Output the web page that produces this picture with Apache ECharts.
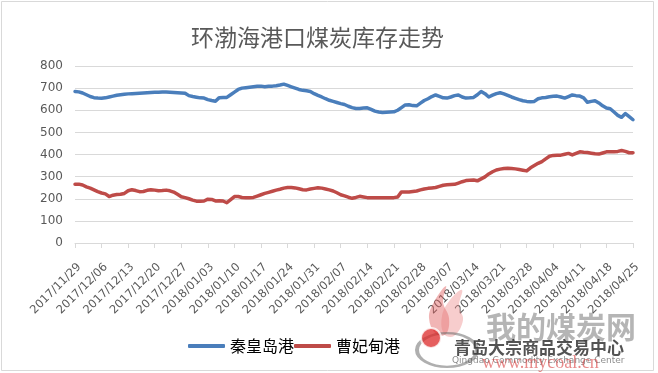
<!DOCTYPE html>
<html>
<head>
<meta charset="utf-8">
<script src="https://cdn.jsdelivr.net/npm/echarts@6/dist/echarts.min.js"></script>
<style>
html,body{margin:0;padding:0;background:#fff;}
#chart{width:658px;height:373px;}
</style>
</head>
<body>
<div id="chart"></div>
<script>
var categories = [
'2017/11/29','2017/11/30',
'2017/12/01','2017/12/02','2017/12/03','2017/12/04','2017/12/05','2017/12/06','2017/12/07','2017/12/08','2017/12/09','2017/12/10',
'2017/12/11','2017/12/12','2017/12/13','2017/12/14','2017/12/15','2017/12/16','2017/12/17','2017/12/18','2017/12/19','2017/12/20',
'2017/12/21','2017/12/22','2017/12/23','2017/12/24','2017/12/25','2017/12/26','2017/12/27','2017/12/28','2017/12/29','2017/12/30','2017/12/31',
'2018/01/01','2018/01/02','2018/01/03','2018/01/04','2018/01/05','2018/01/06','2018/01/07','2018/01/08','2018/01/09','2018/01/10',
'2018/01/11','2018/01/12','2018/01/13','2018/01/14','2018/01/15','2018/01/16','2018/01/17','2018/01/18','2018/01/19','2018/01/20',
'2018/01/21','2018/01/22','2018/01/23','2018/01/24','2018/01/25','2018/01/26','2018/01/27','2018/01/28','2018/01/29','2018/01/30','2018/01/31',
'2018/02/01','2018/02/02','2018/02/03','2018/02/04','2018/02/05','2018/02/06','2018/02/07','2018/02/08','2018/02/09','2018/02/10',
'2018/02/11','2018/02/12','2018/02/13','2018/02/14','2018/02/15','2018/02/16','2018/02/17','2018/02/18','2018/02/19','2018/02/20',
'2018/02/21','2018/02/22','2018/02/23','2018/02/24','2018/02/25','2018/02/26','2018/02/27','2018/02/28',
'2018/03/01','2018/03/02','2018/03/03','2018/03/04','2018/03/05','2018/03/06','2018/03/07','2018/03/08','2018/03/09','2018/03/10',
'2018/03/11','2018/03/12','2018/03/13','2018/03/14','2018/03/15','2018/03/16','2018/03/17','2018/03/18','2018/03/19','2018/03/20',
'2018/03/21','2018/03/22','2018/03/23','2018/03/24','2018/03/25','2018/03/26','2018/03/27','2018/03/28','2018/03/29','2018/03/30','2018/03/31',
'2018/04/01','2018/04/02','2018/04/03','2018/04/04','2018/04/05','2018/04/06','2018/04/07','2018/04/08','2018/04/09','2018/04/10',
'2018/04/11','2018/04/12','2018/04/13','2018/04/14','2018/04/15','2018/04/16','2018/04/17','2018/04/18','2018/04/19','2018/04/20',
'2018/04/21','2018/04/22','2018/04/23','2018/04/24','2018/04/25'
];

var qinhuangdao = [
685,683,678,670,662,657,655,654,656,660,
664,668,670,672,674,675,676,677,678,679,
680,681,681,682,682,681,680,679,678,677,
666,662,659,656,655,648,644,641,657,658,
658,670,682,694,700,702,704,706,708,709,
706,708,709,711,714,718,712,706,700,694,
690,688,685,675,667,660,652,645,640,635,
630,626,618,612,608,608,610,611,604,596,
592,590,591,592,593,600,612,624,625,621,
620,632,644,652,662,669,663,656,655,660,
666,669,660,655,656,658,670,685,675,660,
668,675,679,674,667,660,654,648,643,640,
638,640,652,656,658,661,663,664,660,655,
662,669,666,664,656,636,640,643,633,620,
610,607,592,577,568,585,571,557
];

var caofeidian = [
266,266,262,254,248,240,232,226,222,210,
216,219,220,224,236,241,237,232,233,238,
241,239,236,237,239,236,230,220,209,205,
200,194,189,189,190,198,197,190,191,190,
182,196,210,210,206,205,205,206,212,218,
224,229,234,239,243,248,251,251,249,245,
241,240,244,247,250,248,244,240,235,227,
218,213,207,202,206,211,208,205,205,205,
205,205,205,205,205,208,231,231,231,233,
235,240,244,247,249,251,256,261,263,264,
265,271,277,282,284,285,281,290,299,312,
322,330,334,337,338,337,335,332,329,326,
340,350,360,368,380,392,396,397,397,401,
405,398,405,412,410,409,406,403,402,407,
412,412,412,414,418,414,408,408
];

var seriesNames = ['秦皇岛港', '曹妃甸港'];
var yTicks = [0, 100, 200, 300, 400, 500, 600, 700, 800];
var titleText = '环渤海港口煤炭库存走势';

var chart = echarts.init(document.getElementById('chart'), null, {renderer: 'canvas'});
var option = {
  animation: false,
  backgroundColor: '#ffffff',
  title: {
    text: titleText,
    left: 191,
    top: 26,
    padding: 0,
    textStyle: {fontFamily: 'Noto Sans CJK SC', fontSize: 23, fontWeight: 'normal', color: '#595959'}
  },
  legend: {
    data: seriesNames,
    left: 188,
    top: 338,
    icon: 'roundRect',
    itemWidth: 37,
    itemHeight: 4,
    itemGap: 0,
    padding: 0,
    textStyle: {fontFamily: 'Noto Sans CJK SC', fontSize: 16, color: '#000000'}
  },
  grid: {left: 75, right: 25, top: 66, bottom: 130, containLabel: false},
  xAxis: {
    type: 'category',
    data: categories,
    boundaryGap: false,
    axisLine: {lineStyle: {color: '#d9d9d9', width: 1}},
    axisTick: {show: true, interval: 6, length: 5, lineStyle: {color: '#d9d9d9'}},
    axisLabel: {interval: 6, rotate: 45, margin: 18, verticalAlign: 'top', color: '#595959', fontFamily: 'DejaVu Sans', fontSize: 11.5},
    splitLine: {show: false}
  },
  yAxis: {
    type: 'value',
    min: yTicks[0],
    max: yTicks[yTicks.length - 1],
    interval: 100,
    axisLine: {show: false},
    axisTick: {show: false},
    axisLabel: {margin: 12, color: '#595959', fontFamily: 'DejaVu Sans', fontSize: 12},
    splitLine: {lineStyle: {color: '#d9d9d9', width: 1}}
  },
  series: [
    {name: seriesNames[0], type: 'line', data: qinhuangdao, symbol: 'none', showSymbol: false,
     lineStyle: {color: '#4a7ebb', width: 3.5, cap: 'round', join: 'round'}, itemStyle: {color: '#4a7ebb'}},
    {name: seriesNames[1], type: 'line', data: caofeidian, symbol: 'none', showSymbol: false,
     lineStyle: {color: '#be4b48', width: 3.5, cap: 'round', join: 'round'}, itemStyle: {color: '#be4b48'}}
  ],
  graphic: [
    {type: 'rect', silent: true, z: -10, shape: {x: 1.5, y: 1.5, width: 652, height: 369},
     style: {fill: 'none', stroke: '#d9d9d9', lineWidth: 1}},
    {type: 'polygon', silent: true, z: 5,
     shape: {points: [[436,334],[429,318],[434,302],[446,286],[443,302],[449,318],[446,334]], smooth: 0.4},
     style: {fill: 'rgba(225,90,90,0.45)'}},
    {type: 'polygon', silent: true, z: 5,
     shape: {points: [[444,334],[442,316],[450,300],[462,290],[459,306],[463,320],[454,336]], smooth: 0.4},
     style: {fill: 'rgba(235,130,130,0.4)'}},
    {type: 'circle', silent: true, z: 5, x: 447, y: 350, scaleX: 1, scaleY: 0.56,
     shape: {cx: 0, cy: 0, r: 30},
     style: {fill: 'none', stroke: 'rgba(110,110,110,0.55)', lineWidth: 4}},
    {type: 'circle', silent: true, z: 6, shape: {cx: 431, cy: 338, r: 10},
     style: {fill: 'rgba(220,40,40,0.75)', stroke: 'rgba(255,255,255,0.8)', lineWidth: 2}},
    {type: 'text', silent: true, z: 5, x: 486, y: 312,
     style: {text: '我的煤炭网', font: 'bold 30px "Noto Sans CJK SC"', fill: 'rgba(120,120,120,0.55)'}},
    {type: 'text', silent: true, z: 6, x: 454, y: 339,
     style: {text: '青岛大宗商品交易中心', font: 'bold 17px "Noto Sans CJK SC"', fill: 'rgba(40,40,40,0.8)'}},
    {type: 'text', silent: true, z: 6, x: 452, y: 356,
     style: {text: 'Qingdao Commodity Exchange Center', font: '9px "DejaVu Sans"', fill: 'rgba(60,60,60,0.6)'}},
    {type: 'text', silent: true, z: 6, x: 482, y: 354,
     style: {text: 'www.mycoal.cn', font: '18px "Liberation Serif"', fill: 'rgba(215,60,60,0.6)'}}
  ]
};
chart.setOption(option);
</script>
</body>
</html>
